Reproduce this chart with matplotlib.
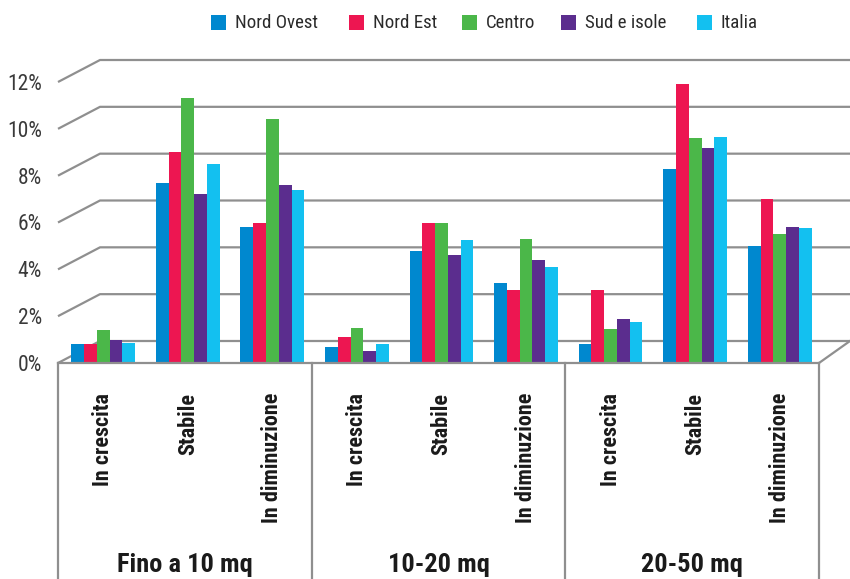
import matplotlib
matplotlib.use("Agg")
import matplotlib.pyplot as plt
from matplotlib import font_manager as fm
from matplotlib.patches import Rectangle
from matplotlib.transforms import blended_transform_factory

# pick the narrowest sans family available
_entries = fm.fontManager.ttflist
_names = {f.name for f in _entries}
family, stretch = "Liberation Sans", "normal"
for cand in ["Liberation Sans Narrow", "Roboto Condensed", "Open Sans Condensed",
             "Noto Sans Condensed", "DejaVu Sans Condensed", "Arial Narrow"]:
    if cand in _names:
        family = cand
        break
else:
    cond = [f for f in _entries if "condensed" in str(f.stretch)
            and f.name in ("DejaVu Sans", "Noto Sans", "Open Sans", "Roboto",
                           "Liberation Sans", "Lato", "Inter")]
    if cond:
        family, stretch = cond[0].name, "condensed"
plt.rcParams['font.family'] = [family, 'DejaVu Sans']
plt.rcParams['font.stretch'] = stretch

# ---- data ----
groups = ["Fino a 10 mq", "10-20 mq", "20-50 mq"]
trends = ["In crescita", "Stabile", "In diminuzione"]
series = ["Nord Ovest", "Nord Est", "Centro", "Sud e isole", "Italia"]
colors = ["#0088CF", "#ED1651", "#4BB749", "#5B2D8E", "#13C0F0"]

# values in %, ordered group by group, trend by trend
nord_ovest = [0.8, 7.7, 5.8, 0.7, 4.8, 3.4, 0.8, 8.3, 5.0]
nord_est = [0.8, 9.0, 6.0, 1.1, 6.0, 3.1, 3.1, 11.9, 7.0]
centro = [1.4, 11.3, 10.4, 1.5, 6.0, 5.3, 1.45, 9.6, 5.5]
sud_isole = [1.0, 7.2, 7.6, 0.5, 4.6, 4.4, 1.9, 9.2, 5.8]
italia = [0.85, 8.5, 7.4, 0.8, 5.25, 4.1, 1.75, 9.65, 5.75]
values = [nord_ovest, nord_est, centro, sud_isole, italia]

yticks = [0, 2, 4, 6, 8, 10, 12]

# ---- figure ----
W, H = 850, 579
fig = plt.figure(figsize=(W / 100, H / 100), dpi=100)
x0, x1, y0, y1 = 58, 819, 363, 82          # front plane of the plot box (px)
ax = fig.add_axes([x0 / W, (H - y0) / H, (x1 - x0) / W, (y0 - y1) / H])
n_cat = len(groups) * len(trends)
ax.set_xlim(0, n_cat)
ax.set_ylim(0, 12)
for s in ax.spines.values():
    s.set_visible(False)

px_x = (x1 - x0) / n_cat       # px per category
px_y = (y0 - y1) / 12.0         # px per percent
dx = 42 / px_x                  # depth offset of the back wall
dy = 22 / px_y
x_right = (W - x0) / px_x
y_bottom = -(H - y0) / px_y

grid_c = "#8f8f8f"
# back-wall gridlines with their slanted side-wall part
for v in yticks:
    ax.plot([0, dx, x_right], [v, v + dy, v + dy], color=grid_c, lw=1.6,
            clip_on=False, zorder=1, solid_capstyle="butt")

# floor edges
ax.plot([0, n_cat], [0, 0], color=grid_c, lw=1.6, clip_on=False, zorder=4)
ax.plot([n_cat, n_cat + 31 / px_x], [0, dy], color=grid_c, lw=1.6,
        clip_on=False, zorder=4)

# category box separators
for xs in [0, 3, 6, 9]:
    ax.plot([xs, xs], [0, y_bottom], color=grid_c, lw=1.6, clip_on=False,
            zorder=4)

# bars (slightly shifted toward the depth of the box)
bw = 0.151
shift = 0.035
centers = [i + 0.5 for i in range(n_cat)]
for k, (vals, col) in enumerate(zip(values, colors)):
    xs = [c + shift + (k - 2) * bw for c in centers]
    ax.bar(xs, vals, width=bw, color=col, linewidth=0, zorder=3)

# y axis labels
ax.set_yticks(yticks)
ax.set_yticklabels([f"{v}%" for v in yticks], fontsize=15, color="#3a3a3a")
ax.tick_params(axis="y", length=0, pad=11.5)

# x axis labels (trend)
ax.set_xticks([c + shift for c in centers])
ax.set_xticklabels(trends * len(groups), rotation=90, fontsize=16,
                   fontweight="bold", color="#1a1a1a", va="top", ha="center")
ax.tick_params(axis="x", length=0, pad=21.5)

# group labels
tr = blended_transform_factory(ax.transData, fig.transFigure)
group_texts = []
for i, g in enumerate(groups):
    group_texts.append(ax.text(i * 3 + 1.5, 1 - 565 / H, g, transform=tr,
                               ha="center", va="center", fontsize=19,
                               fontweight="bold", color="#1a1a1a"))

# legend
leg_sq = [211, 349, 462, 561, 697]
leg_texts = []
for xs, name, col in zip(leg_sq, series, colors):
    fig.add_artist(Rectangle((xs / W, 1 - 30 / H), 15 / W, 15 / H,
                             transform=fig.transFigure, color=col, lw=0))
    leg_texts.append(fig.text((xs + 24) / W, 1 - 22.5 / H, name,
                              fontsize=14.5, color="#2a2a2a", va="center",
                              ha="left"))

# size the text so its extent matches the layout widths
fig.canvas.draw()
rend = fig.canvas.get_renderer()


def fit(texts, ref, target, vertical=False):
    bb = ref.get_window_extent(rend)
    size = bb.height if vertical else bb.width
    fs = ref.get_fontsize() * target / size
    for t in texts:
        t.set_fontsize(fs)


xl = ax.get_xticklabels()
fit(xl, xl[2], 130, vertical=True)
yl = ax.get_yticklabels()
fit(yl, yl[-1], 35)
fit(group_texts, group_texts[0], 136)
fit(leg_texts, leg_texts[0], 83)

fig.savefig("out.png", dpi=100)
